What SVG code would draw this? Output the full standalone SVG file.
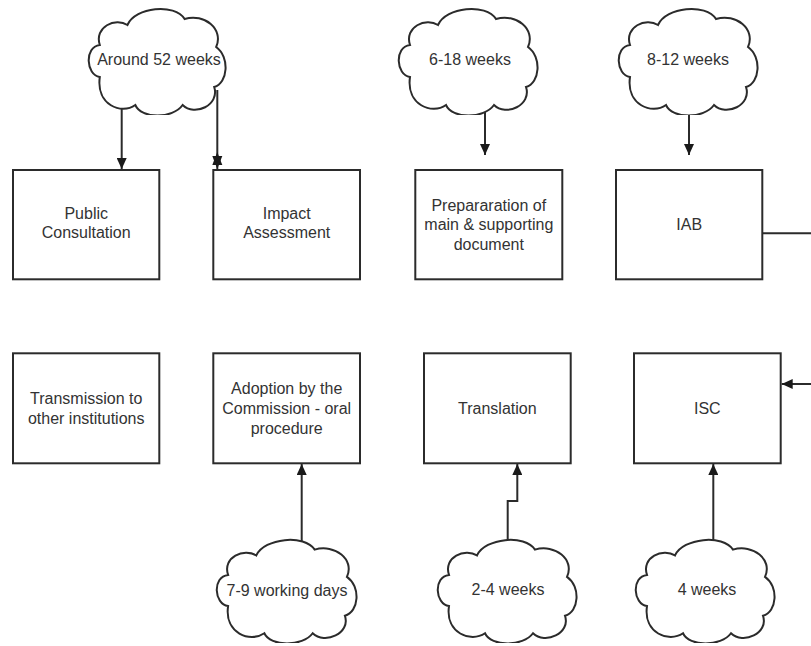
<svg xmlns="http://www.w3.org/2000/svg" xmlns:xlink="http://www.w3.org/1999/xlink" width="811" height="646" viewBox="0 0 811 646">
  <style>
    .box { fill: #ffffff; stroke: #2b2b2b; stroke-width: 2; }
    .cloud { fill: #ffffff; stroke: #2b2b2b; stroke-width: 2; vector-effect: non-scaling-stroke; }
    .label { font-family: "Liberation Sans", Arial, sans-serif; font-size: 16px; fill: #333333; text-anchor: middle; }
    .conn { fill: none; stroke: #2b2b2b; stroke-width: 2; }
  </style>
  <defs>
    <marker id="arrow" markerUnits="userSpaceOnUse" markerWidth="12" markerHeight="10" refX="11" refY="5" orient="auto">
      <path d="M0,0 L11,5 L0,10 Z" fill="#1a1a1a"/>
    </marker>
    <symbol id="cloud-shape" viewBox="0 0 144 110" preserveAspectRatio="none">
      <path class="cloud" d="M14,72 C0,70 -2,42 14,40 C8,22 30,12 42,20 C50,2 90,-2 100,14 C120,8 140,24 132,42 C146,52 144,78 130,82 C136,100 110,112 98,100 C88,114 56,114 50,100 C36,110 10,100 14,72 Z"/>
    </symbol>
  </defs>

  <rect width="811" height="646" fill="#ffffff"/>

  <!-- connectors -->
  <g id="connectors">
    <line class="conn" x1="121.7" y1="90" x2="121.7" y2="169" marker-end="url(#arrow)"/>
    <line class="conn" x1="217.3" y1="90" x2="217.3" y2="169"/>
    <!-- double head where both directions meet -->
    <path d="M212.3,156 L222.3,156 L217.3,169 Z" fill="#1a1a1a"/>
    <path d="M212.3,165 L222.3,165 L217.3,152 Z" fill="#1a1a1a"/>
    <line class="conn" x1="485" y1="100" x2="485" y2="155" marker-end="url(#arrow)"/>
    <line class="conn" x1="689" y1="100" x2="689" y2="155" marker-end="url(#arrow)"/>
    <line class="conn" x1="301.7" y1="550" x2="301.7" y2="464" marker-end="url(#arrow)"/>
    <polyline class="conn" points="507.7,550 507.7,501 517.3,501 517.3,464" marker-end="url(#arrow)"/>
    <line class="conn" x1="713.3" y1="550" x2="713.3" y2="464" marker-end="url(#arrow)"/>
    <line class="conn" x1="762.3" y1="233.3" x2="812" y2="233.3"/>
    <line class="conn" x1="812" y1="384" x2="781.7" y2="384" marker-end="url(#arrow)"/>
  </g>

  <!-- clouds (durations) -->
  <g id="cloud-52-weeks">
    <use xlink:href="#cloud-shape" x="86" y="5" width="142" height="110"/>
    <text class="label" x="159" y="64.6">Around 52 weeks</text>
  </g>
  <g id="cloud-6-18-weeks">
    <use xlink:href="#cloud-shape" x="396" y="5" width="144" height="110"/>
    <text class="label" x="470" y="64.6">6-18 weeks</text>
  </g>
  <g id="cloud-8-12-weeks">
    <use xlink:href="#cloud-shape" x="616" y="5" width="144" height="110"/>
    <text class="label" x="688" y="64.6">8-12 weeks</text>
  </g>
  <g id="cloud-7-9-days">
    <use xlink:href="#cloud-shape" x="214" y="536" width="145" height="107"/>
    <text class="label" x="287" y="595.6">7-9 working days</text>
  </g>
  <g id="cloud-2-4-weeks">
    <use xlink:href="#cloud-shape" x="435" y="536" width="144" height="107"/>
    <text class="label" x="508" y="594.6">2-4 weeks</text>
  </g>
  <g id="cloud-4-weeks">
    <use xlink:href="#cloud-shape" x="633" y="536" width="144" height="107"/>
    <text class="label" x="707" y="594.6">4 weeks</text>
  </g>

  <!-- process steps, top row -->
  <g id="public-consultation">
    <rect class="box" x="13" y="170" width="146.3" height="109.3"/>
    <text class="label" x="86.2" y="218.6">Public</text>
    <text class="label" x="86.2" y="238.3">Consultation</text>
  </g>
  <g id="impact-assessment">
    <rect class="box" x="213.3" y="170" width="146.7" height="109.3"/>
    <text class="label" x="286.7" y="218.6">Impact</text>
    <text class="label" x="286.7" y="238.3">Assessment</text>
  </g>
  <g id="preparation">
    <rect class="box" x="415.3" y="170" width="147" height="109.3"/>
    <text class="label" x="488.8" y="210.6">Prepararation of</text>
    <text class="label" x="488.8" y="230.3">main &amp; supporting</text>
    <text class="label" x="488.8" y="250">document</text>
  </g>
  <g id="iab">
    <rect class="box" x="616" y="170" width="146.3" height="109.3"/>
    <text class="label" x="689.2" y="230.3">IAB</text>
  </g>

  <!-- process steps, bottom row -->
  <g id="transmission">
    <rect class="box" x="13" y="353.3" width="146.3" height="110"/>
    <text class="label" x="86.2" y="404">Transmission to</text>
    <text class="label" x="86.2" y="423.7">other institutions</text>
  </g>
  <g id="adoption">
    <rect class="box" x="213.3" y="353.3" width="146.7" height="110"/>
    <text class="label" x="286.7" y="394">Adoption by the</text>
    <text class="label" x="286.7" y="413.9">Commission - oral</text>
    <text class="label" x="286.7" y="433.6">procedure</text>
  </g>
  <g id="translation">
    <rect class="box" x="424" y="353.3" width="146.7" height="110"/>
    <text class="label" x="497.3" y="413.9">Translation</text>
  </g>
  <g id="isc">
    <rect class="box" x="634" y="353.3" width="146.7" height="110"/>
    <text class="label" x="707.3" y="413.9">ISC</text>
  </g>
</svg>
